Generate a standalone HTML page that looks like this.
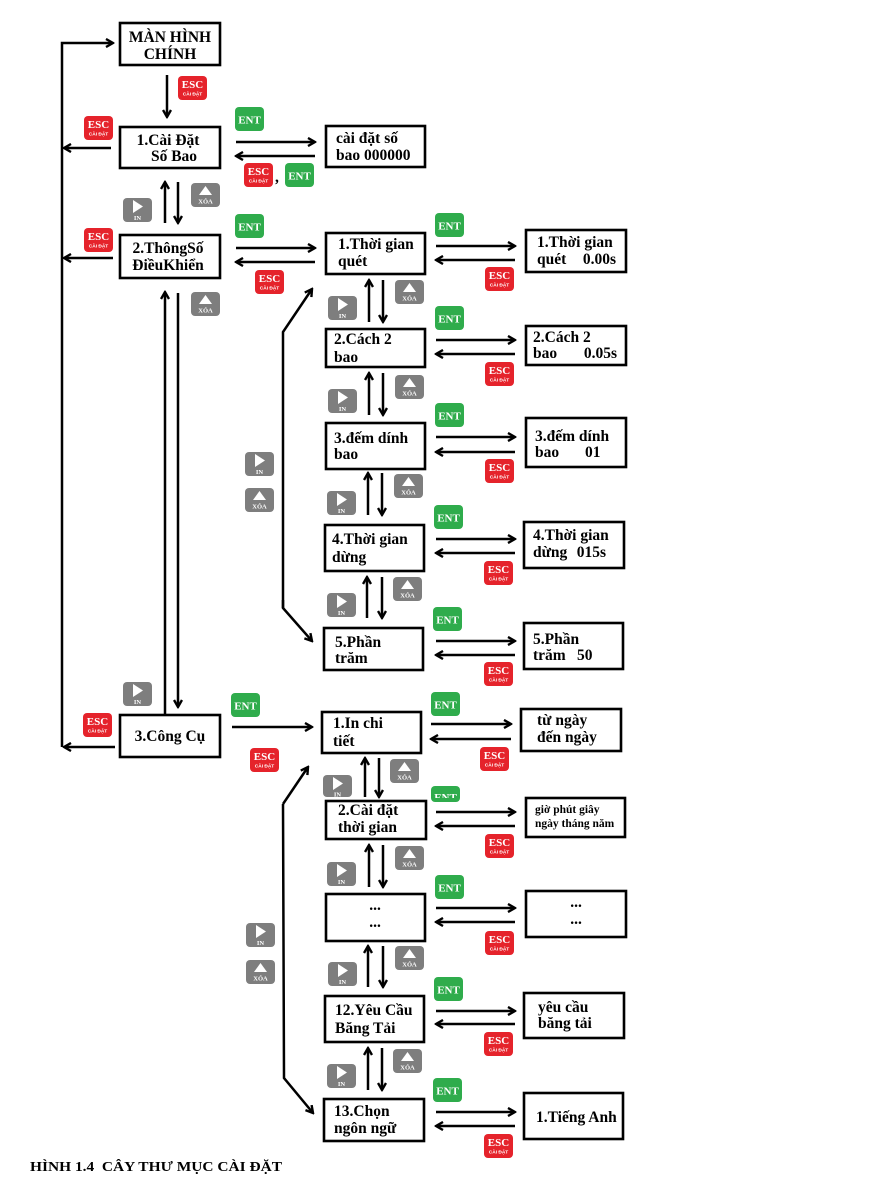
<!DOCTYPE html>
<html><head><meta charset="utf-8">
<style>
html,body{margin:0;padding:0;background:#fff;}
svg{display:block;}
.bx{fill:#fff;stroke:#000;stroke-width:2.6;}
.a{stroke:#000;stroke-width:2.5;fill:none;marker-end:url(#h);}
.ln{stroke:#000;stroke-width:2.5;fill:none;}
.t{font:bold 15.5px "Liberation Serif",serif;fill:#000;}
.tc{font:bold 15.5px "Liberation Serif",serif;fill:#000;text-anchor:middle;}
.ts{font:bold 11.5px "Liberation Serif",serif;fill:#000;}
.er{fill:#e5232b;}
.eg{fill:#2fac4c;}
.gy{fill:#7e7e7e;}
.bt{font:bold 11px "Liberation Serif",serif;fill:#fff;text-anchor:middle;}
.bs{font:bold 4.8px "Liberation Sans",sans-serif;fill:#fff;text-anchor:middle;}
.bi{font:bold 6.5px "Liberation Serif",serif;fill:#fff;text-anchor:middle;}
.cap{font:bold 14px "Liberation Serif",serif;fill:#000;white-space:pre;}
</style></head>
<body>
<svg width="895" height="1200" viewBox="0 0 895 1200" xmlns="http://www.w3.org/2000/svg">
<defs>
<marker id="h" viewBox="0 0 10 10" refX="8.5" refY="5" markerWidth="10" markerHeight="10" markerUnits="userSpaceOnUse" orient="auto">
<path d="M1.5,1 L8.5,5 L1.5,9" fill="none" stroke="#000" stroke-width="2.4"/>
</marker>
<clipPath id="cut"><rect x="0" y="0" width="30" height="12"/></clipPath>
</defs>

<!-- main left line -->
<path class="a" d="M62,747 L62,43 L113,43"/>
<path class="a" d="M111,148 L64,148"/>
<path class="a" d="M113,258 L64,258"/>
<path class="a" d="M115,747 L64,747"/>

<!-- main box -->
<rect class="bx" x="120" y="23" width="100" height="42"/>
<text class="tc" x="170" y="42">MÀN HÌNH</text>
<text class="tc" x="170" y="59">CHÍNH</text>
<path class="a" d="M167,75 L167,117"/>
<g transform="translate(178,76)"><rect width="29" height="24" rx="4" class="er"/><text x="14.5" y="12" class="bt">ESC</text><text x="14.5" y="19.5" class="bs">CÀI ĐẶT</text></g>

<!-- box1 -->
<rect class="bx" x="120" y="127" width="100" height="41"/>
<text class="tc" x="168" y="145">1.Cài Đặt</text>
<text class="tc" x="174" y="161">Số Bao</text>
<g transform="translate(84,116)"><rect width="29" height="24" rx="4" class="er"/><text x="14.5" y="12" class="bt">ESC</text><text x="14.5" y="19.5" class="bs">CÀI ĐẶT</text></g>
<g transform="translate(235,107)"><rect width="29" height="24" rx="4" class="eg"/><text x="14.5" y="16.5" class="bt">ENT</text></g>
<path class="a" d="M236,142 L315,142"/>
<path class="a" d="M315,156 L236,156"/>
<rect class="bx" x="326" y="126" width="99" height="41"/>
<text class="t" x="336" y="143">cài đặt số</text>
<text class="t" x="336" y="160">bao 000000</text>
<g transform="translate(244,163)"><rect width="29" height="24" rx="4" class="er"/><text x="14.5" y="12" class="bt">ESC</text><text x="14.5" y="19.5" class="bs">CÀI ĐẶT</text></g>
<text class="t" x="275" y="182">,</text>
<g transform="translate(285,163)"><rect width="29" height="24" rx="4" class="eg"/><text x="14.5" y="16.5" class="bt">ENT</text></g>

<!-- box1-2 -->
<path class="a" d="M165,223 L165,182"/>
<path class="a" d="M178,182 L178,223"/>
<g transform="translate(191,183)"><rect width="29" height="24" rx="4" class="gy"/><path d="M8,12L14.5,3L21,12Z" fill="#fff"/><text x="14.5" y="20.5" class="bi">XÓA</text></g>
<g transform="translate(123,198)"><rect width="29" height="24" rx="4" class="gy"/><path d="M10,2L20,8.5L10,15Z" fill="#fff"/><text x="14.5" y="22" class="bi">IN</text></g>

<!-- box2 -->
<rect class="bx" x="120" y="235" width="100" height="43"/>
<text class="tc" x="168" y="253">2.ThôngSố</text>
<text class="tc" x="168" y="270">ĐiềuKhiển</text>
<g transform="translate(84,228)"><rect width="29" height="24" rx="4" class="er"/><text x="14.5" y="12" class="bt">ESC</text><text x="14.5" y="19.5" class="bs">CÀI ĐẶT</text></g>
<g transform="translate(235,214)"><rect width="29" height="24" rx="4" class="eg"/><text x="14.5" y="16.5" class="bt">ENT</text></g>
<path class="a" d="M236,248 L315,248"/>
<path class="a" d="M315,262 L236,262"/>
<g transform="translate(255,270)"><rect width="29" height="24" rx="4" class="er"/><text x="14.5" y="12" class="bt">ESC</text><text x="14.5" y="19.5" class="bs">CÀI ĐẶT</text></g>

<!-- box2-3 -->
<path class="a" d="M165,715 L165,292"/>
<path class="a" d="M178,293 L178,707"/>
<g transform="translate(191,292)"><rect width="29" height="24" rx="4" class="gy"/><path d="M8,12L14.5,3L21,12Z" fill="#fff"/><text x="14.5" y="20.5" class="bi">XÓA</text></g>
<g transform="translate(123,682)"><rect width="29" height="24" rx="4" class="gy"/><path d="M10,2L20,8.5L10,15Z" fill="#fff"/><text x="14.5" y="22" class="bi">IN</text></g>

<!-- box3 -->
<rect class="bx" x="120" y="715" width="100" height="42"/>
<text class="tc" x="170" y="741">3.Công Cụ</text>
<g transform="translate(83,713)"><rect width="29" height="24" rx="4" class="er"/><text x="14.5" y="12" class="bt">ESC</text><text x="14.5" y="19.5" class="bs">CÀI ĐẶT</text></g>
<g transform="translate(231,693)"><rect width="29" height="24" rx="4" class="eg"/><text x="14.5" y="16.5" class="bt">ENT</text></g>
<path class="a" d="M232,727 L312,727"/>
<g transform="translate(250,748)"><rect width="29" height="24" rx="4" class="er"/><text x="14.5" y="12" class="bt">ESC</text><text x="14.5" y="19.5" class="bs">CÀI ĐẶT</text></g>

<!-- ===== Column A ===== -->
<path class="a" d="M283,608 L283,332 L312,289"/>
<path class="a" d="M283,600 L283,608 L312,641"/>
<g transform="translate(245,452)"><rect width="29" height="24" rx="4" class="gy"/><path d="M10,2L20,8.5L10,15Z" fill="#fff"/><text x="14.5" y="22" class="bi">IN</text></g>
<g transform="translate(245,488)"><rect width="29" height="24" rx="4" class="gy"/><path d="M8,12L14.5,3L21,12Z" fill="#fff"/><text x="14.5" y="20.5" class="bi">XÓA</text></g>

<!-- A1 -->
<rect class="bx" x="326" y="233" width="99" height="41"/>
<text class="t" x="338" y="249">1.Thời gian</text>
<text class="t" x="338" y="266">quét</text>
<g transform="translate(435,213)"><rect width="29" height="24" rx="4" class="eg"/><text x="14.5" y="16.5" class="bt">ENT</text></g>
<path class="a" d="M436,246 L515,246"/>
<path class="a" d="M515,260 L436,260"/>
<g transform="translate(485,267)"><rect width="29" height="24" rx="4" class="er"/><text x="14.5" y="12" class="bt">ESC</text><text x="14.5" y="19.5" class="bs">CÀI ĐẶT</text></g>
<rect class="bx" x="526" y="230" width="100" height="42"/>
<text class="t" x="537" y="247">1.Thời gian</text>
<text class="t" x="537" y="264">quét</text>
<text class="t" x="616" y="264" text-anchor="end">0.00s</text>

<path class="a" d="M369,322 L369,280"/>
<path class="a" d="M383,280 L383,322"/>
<g transform="translate(395,280)"><rect width="29" height="24" rx="4" class="gy"/><path d="M8,12L14.5,3L21,12Z" fill="#fff"/><text x="14.5" y="20.5" class="bi">XÓA</text></g>
<g transform="translate(328,296)"><rect width="29" height="24" rx="4" class="gy"/><path d="M10,2L20,8.5L10,15Z" fill="#fff"/><text x="14.5" y="22" class="bi">IN</text></g>

<!-- A2 -->
<rect class="bx" x="326" y="329" width="99" height="38"/>
<text class="t" x="334" y="344">2.Cách 2</text>
<text class="t" x="334" y="362">bao</text>
<g transform="translate(435,306)"><rect width="29" height="24" rx="4" class="eg"/><text x="14.5" y="16.5" class="bt">ENT</text></g>
<path class="a" d="M436,340 L515,340"/>
<path class="a" d="M515,354 L436,354"/>
<g transform="translate(485,362)"><rect width="29" height="24" rx="4" class="er"/><text x="14.5" y="12" class="bt">ESC</text><text x="14.5" y="19.5" class="bs">CÀI ĐẶT</text></g>
<rect class="bx" x="526" y="326" width="100" height="39"/>
<text class="t" x="533" y="342">2.Cách 2</text>
<text class="t" x="533" y="358">bao</text>
<text class="t" x="617" y="358" text-anchor="end">0.05s</text>

<path class="a" d="M369,415 L369,373"/>
<path class="a" d="M383,373 L383,415"/>
<g transform="translate(395,375)"><rect width="29" height="24" rx="4" class="gy"/><path d="M8,12L14.5,3L21,12Z" fill="#fff"/><text x="14.5" y="20.5" class="bi">XÓA</text></g>
<g transform="translate(328,389)"><rect width="29" height="24" rx="4" class="gy"/><path d="M10,2L20,8.5L10,15Z" fill="#fff"/><text x="14.5" y="22" class="bi">IN</text></g>

<!-- A3 -->
<rect class="bx" x="326" y="423" width="99" height="46"/>
<text class="t" x="334" y="443">3.đếm dính</text>
<text class="t" x="334" y="459">bao</text>
<g transform="translate(435,403)"><rect width="29" height="24" rx="4" class="eg"/><text x="14.5" y="16.5" class="bt">ENT</text></g>
<path class="a" d="M436,437 L515,437"/>
<path class="a" d="M515,452 L436,452"/>
<g transform="translate(485,459)"><rect width="29" height="24" rx="4" class="er"/><text x="14.5" y="12" class="bt">ESC</text><text x="14.5" y="19.5" class="bs">CÀI ĐẶT</text></g>
<rect class="bx" x="526" y="418" width="100" height="49"/>
<text class="t" x="535" y="441">3.đếm dính</text>
<text class="t" x="535" y="457">bao</text>
<text class="t" x="585" y="457">01</text>

<path class="a" d="M368,515 L368,473"/>
<path class="a" d="M382,473 L382,515"/>
<g transform="translate(394,474)"><rect width="29" height="24" rx="4" class="gy"/><path d="M8,12L14.5,3L21,12Z" fill="#fff"/><text x="14.5" y="20.5" class="bi">XÓA</text></g>
<g transform="translate(327,491)"><rect width="29" height="24" rx="4" class="gy"/><path d="M10,2L20,8.5L10,15Z" fill="#fff"/><text x="14.5" y="22" class="bi">IN</text></g>

<!-- A4 -->
<rect class="bx" x="325" y="525" width="99" height="46"/>
<text class="t" x="332" y="544">4.Thời gian</text>
<text class="t" x="332" y="562">dừng</text>
<g transform="translate(434,505)"><rect width="29" height="24" rx="4" class="eg"/><text x="14.5" y="16.5" class="bt">ENT</text></g>
<path class="a" d="M436,539 L515,539"/>
<path class="a" d="M515,553 L436,553"/>
<g transform="translate(484,561)"><rect width="29" height="24" rx="4" class="er"/><text x="14.5" y="12" class="bt">ESC</text><text x="14.5" y="19.5" class="bs">CÀI ĐẶT</text></g>
<rect class="bx" x="524" y="522" width="100" height="46"/>
<text class="t" x="533" y="540">4.Thời gian</text>
<text class="t" x="533" y="557">dừng</text>
<text class="t" x="606" y="557" text-anchor="end">015s</text>

<path class="a" d="M367,618 L367,577"/>
<path class="a" d="M382,577 L382,618"/>
<g transform="translate(393,577)"><rect width="29" height="24" rx="4" class="gy"/><path d="M8,12L14.5,3L21,12Z" fill="#fff"/><text x="14.5" y="20.5" class="bi">XÓA</text></g>
<g transform="translate(327,593)"><rect width="29" height="24" rx="4" class="gy"/><path d="M10,2L20,8.5L10,15Z" fill="#fff"/><text x="14.5" y="22" class="bi">IN</text></g>

<!-- A5 -->
<rect class="bx" x="324" y="628" width="99" height="42"/>
<text class="t" x="335" y="647">5.Phần</text>
<text class="t" x="335" y="663">trăm</text>
<g transform="translate(433,607)"><rect width="29" height="24" rx="4" class="eg"/><text x="14.5" y="16.5" class="bt">ENT</text></g>
<path class="a" d="M436,641 L515,641"/>
<path class="a" d="M515,655 L436,655"/>
<g transform="translate(484,662)"><rect width="29" height="24" rx="4" class="er"/><text x="14.5" y="12" class="bt">ESC</text><text x="14.5" y="19.5" class="bs">CÀI ĐẶT</text></g>
<rect class="bx" x="524" y="623" width="99" height="46"/>
<text class="t" x="533" y="644">5.Phần</text>
<text class="t" x="533" y="660">trăm</text>
<text class="t" x="577" y="660">50</text>

<!-- ===== Column B ===== -->
<path class="a" d="M283,804 L308,767"/>
<path class="a" d="M283,804 L284,1078 L313,1113"/>
<g transform="translate(246,923)"><rect width="29" height="24" rx="4" class="gy"/><path d="M10,2L20,8.5L10,15Z" fill="#fff"/><text x="14.5" y="22" class="bi">IN</text></g>
<g transform="translate(246,960)"><rect width="29" height="24" rx="4" class="gy"/><path d="M8,12L14.5,3L21,12Z" fill="#fff"/><text x="14.5" y="20.5" class="bi">XÓA</text></g>

<!-- B1 -->
<rect class="bx" x="322" y="712" width="99" height="41"/>
<text class="t" x="333" y="728">1.In chi</text>
<text class="t" x="333" y="746">tiết</text>
<g transform="translate(431,692)"><rect width="29" height="24" rx="4" class="eg"/><text x="14.5" y="16.5" class="bt">ENT</text></g>
<path class="a" d="M431,724 L511,724"/>
<path class="a" d="M511,739 L431,739"/>
<g transform="translate(480,747)"><rect width="29" height="24" rx="4" class="er"/><text x="14.5" y="12" class="bt">ESC</text><text x="14.5" y="19.5" class="bs">CÀI ĐẶT</text></g>
<rect class="bx" x="521" y="709" width="100" height="42"/>
<text class="t" x="537" y="725">từ ngày</text>
<text class="t" x="537" y="742">đến ngày</text>

<path class="a" d="M365,797 L365,758"/>
<path class="a" d="M379,758 L379,797"/>
<g transform="translate(390,759)"><rect width="29" height="24" rx="4" class="gy"/><path d="M8,12L14.5,3L21,12Z" fill="#fff"/><text x="14.5" y="20.5" class="bi">XÓA</text></g>
<g transform="translate(323,775)"><rect width="29" height="22" rx="4" class="gy"/><path d="M10,2L20,8.5L10,15Z" fill="#fff"/><text x="14.5" y="21.5" class="bi">IN</text></g>
<g transform="translate(431,786)"><rect width="29" height="16" rx="4" class="eg"/><g clip-path="url(#cut)"><text x="14.5" y="15" class="bt">ENT</text></g></g>

<!-- B2 -->
<rect class="bx" x="326" y="801" width="100" height="38"/>
<text class="t" x="338" y="815">2.Cài đặt</text>
<text class="t" x="338" y="832">thời gian</text>
<path class="a" d="M436,812 L515,812"/>
<path class="a" d="M515,826 L436,826"/>
<g transform="translate(485,834)"><rect width="29" height="24" rx="4" class="er"/><text x="14.5" y="12" class="bt">ESC</text><text x="14.5" y="19.5" class="bs">CÀI ĐẶT</text></g>
<rect class="bx" x="526" y="798" width="99" height="39"/>
<text class="ts" x="535" y="813">giờ phút giây</text>
<text class="ts" x="535" y="827">ngày tháng năm</text>

<path class="a" d="M369,887 L369,845"/>
<path class="a" d="M383,845 L383,887"/>
<g transform="translate(395,846)"><rect width="29" height="24" rx="4" class="gy"/><path d="M8,12L14.5,3L21,12Z" fill="#fff"/><text x="14.5" y="20.5" class="bi">XÓA</text></g>
<g transform="translate(327,862)"><rect width="29" height="24" rx="4" class="gy"/><path d="M10,2L20,8.5L10,15Z" fill="#fff"/><text x="14.5" y="22" class="bi">IN</text></g>

<!-- B3 -->
<rect class="bx" x="326" y="894" width="99" height="47"/>
<text class="tc" x="375" y="910">...</text>
<text class="tc" x="375" y="927">...</text>
<g transform="translate(435,875)"><rect width="29" height="24" rx="4" class="eg"/><text x="14.5" y="16.5" class="bt">ENT</text></g>
<path class="a" d="M436,908 L515,908"/>
<path class="a" d="M515,922 L436,922"/>
<g transform="translate(485,931)"><rect width="29" height="24" rx="4" class="er"/><text x="14.5" y="12" class="bt">ESC</text><text x="14.5" y="19.5" class="bs">CÀI ĐẶT</text></g>
<rect class="bx" x="526" y="891" width="100" height="46"/>
<text class="tc" x="576" y="907">...</text>
<text class="tc" x="576" y="924">...</text>

<path class="a" d="M368,987 L368,946"/>
<path class="a" d="M383,946 L383,987"/>
<g transform="translate(395,946)"><rect width="29" height="24" rx="4" class="gy"/><path d="M8,12L14.5,3L21,12Z" fill="#fff"/><text x="14.5" y="20.5" class="bi">XÓA</text></g>
<g transform="translate(328,962)"><rect width="29" height="24" rx="4" class="gy"/><path d="M10,2L20,8.5L10,15Z" fill="#fff"/><text x="14.5" y="22" class="bi">IN</text></g>

<!-- B4 -->
<rect class="bx" x="325" y="996" width="99" height="46"/>
<text class="t" x="335" y="1015">12.Yêu Cầu</text>
<text class="t" x="335" y="1033">Băng Tải</text>
<g transform="translate(434,977)"><rect width="29" height="24" rx="4" class="eg"/><text x="14.5" y="16.5" class="bt">ENT</text></g>
<path class="a" d="M436,1011 L515,1011"/>
<path class="a" d="M515,1024 L436,1024"/>
<g transform="translate(484,1032)"><rect width="29" height="24" rx="4" class="er"/><text x="14.5" y="12" class="bt">ESC</text><text x="14.5" y="19.5" class="bs">CÀI ĐẶT</text></g>
<rect class="bx" x="524" y="993" width="100" height="45"/>
<text class="t" x="538" y="1012">yêu cầu</text>
<text class="t" x="538" y="1028">băng tải</text>

<path class="a" d="M368,1090 L368,1048"/>
<path class="a" d="M382,1048 L382,1090"/>
<g transform="translate(393,1049)"><rect width="29" height="24" rx="4" class="gy"/><path d="M8,12L14.5,3L21,12Z" fill="#fff"/><text x="14.5" y="20.5" class="bi">XÓA</text></g>
<g transform="translate(327,1064)"><rect width="29" height="24" rx="4" class="gy"/><path d="M10,2L20,8.5L10,15Z" fill="#fff"/><text x="14.5" y="22" class="bi">IN</text></g>

<!-- B5 -->
<rect class="bx" x="324" y="1099" width="100" height="42"/>
<text class="t" x="334" y="1116">13.Chọn</text>
<text class="t" x="334" y="1133">ngôn ngữ</text>
<g transform="translate(433,1078)"><rect width="29" height="24" rx="4" class="eg"/><text x="14.5" y="16.5" class="bt">ENT</text></g>
<path class="a" d="M436,1112 L515,1112"/>
<path class="a" d="M515,1126 L436,1126"/>
<g transform="translate(484,1134)"><rect width="29" height="24" rx="4" class="er"/><text x="14.5" y="12" class="bt">ESC</text><text x="14.5" y="19.5" class="bs">CÀI ĐẶT</text></g>
<rect class="bx" x="524" y="1093" width="99" height="46"/>
<text class="t" x="536" y="1122">1.Tiếng Anh</text>

<!-- caption -->
<text class="cap" x="30" y="1171" textLength="252" lengthAdjust="spacingAndGlyphs">HÌNH 1.4&#160; CÂY THƯ MỤC CÀI ĐẶT</text>
</svg>
</body></html>
